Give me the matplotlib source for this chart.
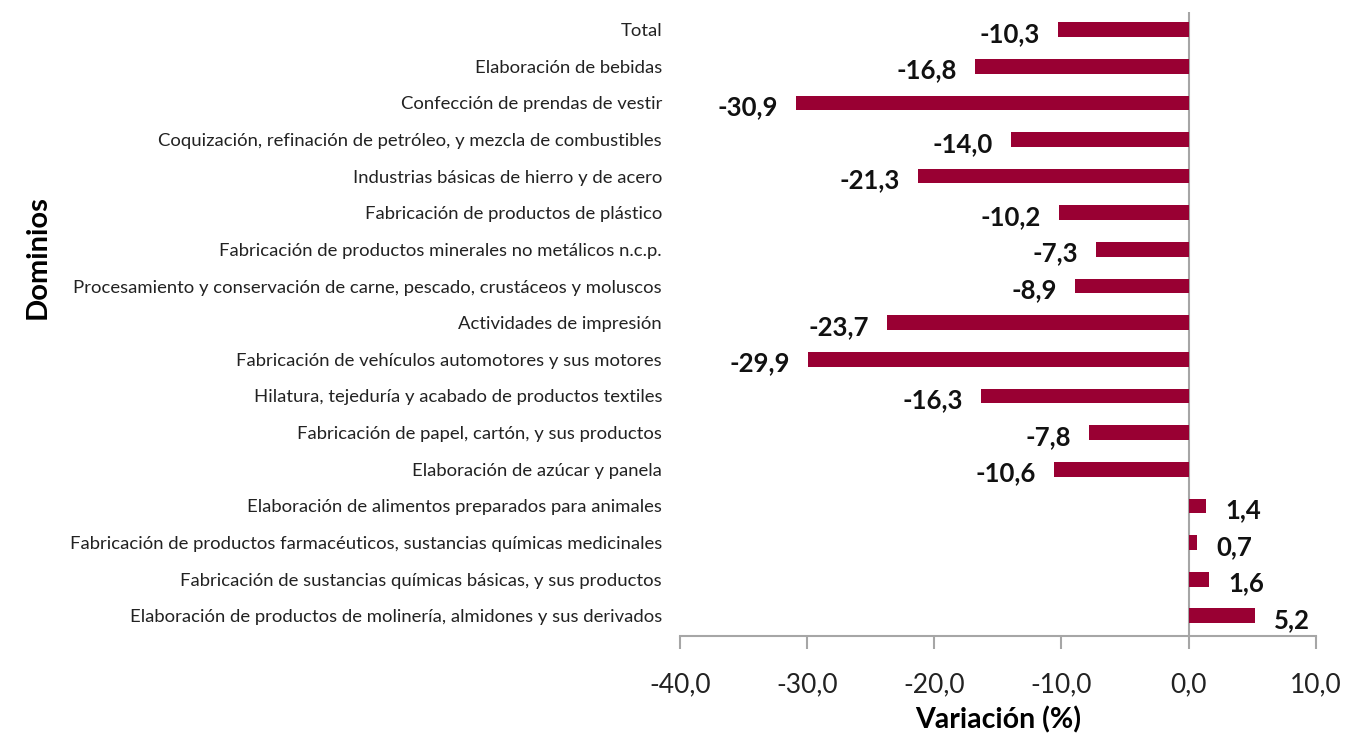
"""Variación anual por dominio industrial - barras horizontales"""
import matplotlib
matplotlib.use("Agg")
import matplotlib.pyplot as plt
from matplotlib.ticker import FuncFormatter

# Dominios, de arriba hacia abajo
dominios = [
    "Total",
    "Elaboración de bebidas",
    "Confección de prendas de vestir",
    "Coquización, refinación de petróleo, y mezcla de combustibles",
    "Industrias básicas de hierro y de acero",
    "Fabricación de productos de plástico",
    "Fabricación de productos minerales no metálicos n.c.p.",
    "Procesamiento y conservación de carne, pescado, crustáceos y moluscos",
    "Actividades de impresión",
    "Fabricación de vehículos automotores y sus motores",
    "Hilatura, tejeduría y acabado de productos textiles",
    "Fabricación de papel, cartón, y sus productos",
    "Elaboración de azúcar y panela",
    "Elaboración de alimentos preparados para animales",
    "Fabricación de productos farmacéuticos, sustancias químicas medicinales",
    "Fabricación de sustancias químicas básicas, y sus productos",
    "Elaboración de productos de molinería, almidones y sus derivados",
]
variacion = [-10.3, -16.8, -30.9, -14.0, -21.3, -10.2, -7.3, -8.9, -23.7,
             -29.9, -16.3, -7.8, -10.6, 1.4, 0.7, 1.6, 5.2]
x_ticks = [-40, -30, -20, -10, 0, 10]

BAR_COLOR = "#990033"
GRID_GRAY = "#a6a6a6"

plt.rcParams["font.family"] = ["Lato", "DejaVu Sans"]


def coma(v, pos=None):
    return f"{v:.1f}".replace(".", ",")


fig = plt.figure(figsize=(13.48, 7.36), dpi=100)
ax = fig.add_axes([0.5045, 0.1359, 0.4715, 0.8478])

pos = list(range(len(dominios)))
ax.barh(pos, variacion, height=0.4, color=BAR_COLOR, zorder=2)

for y, v in zip(pos, variacion):
    if v < 0:
        ax.annotate(coma(v), (v, y), xytext=(-13, -3), textcoords="offset points",
                    ha="right", va="center", fontsize=18.5, fontweight="bold",
                    color="#111111")
    else:
        ax.annotate(coma(v), (v, y), xytext=(14, -3), textcoords="offset points",
                    ha="left", va="center", fontsize=18.5, fontweight="bold",
                    color="#111111")

ax.set_xlim(-40, 10)
ax.set_ylim(len(dominios) - 0.45, -0.48)
ax.set_xticks(x_ticks)
ax.xaxis.set_major_formatter(FuncFormatter(coma))
ax.set_yticks(pos)
ax.set_yticklabels(dominios, fontsize=13.3, color="#222222")

ax.axvline(0, color=GRID_GRAY, linewidth=1.5, zorder=1)

for side in ["top", "right", "left"]:
    ax.spines[side].set_visible(False)
ax.spines["bottom"].set_color(GRID_GRAY)
ax.spines["bottom"].set_linewidth(1.5)

ax.tick_params(axis="y", length=0, pad=13)
ax.tick_params(axis="x", direction="out", length=9, width=1.5, color=GRID_GRAY,
               labelsize=19, labelcolor="#222222", pad=17)

ax.set_xlabel("Variación (%)", fontsize=20.5, fontweight="bold", labelpad=7)
fig.text(0.028, 0.651, "Dominios", rotation=90, fontsize=21, fontweight="bold",
         ha="center", va="center")

fig.savefig("out.png", dpi=100)
